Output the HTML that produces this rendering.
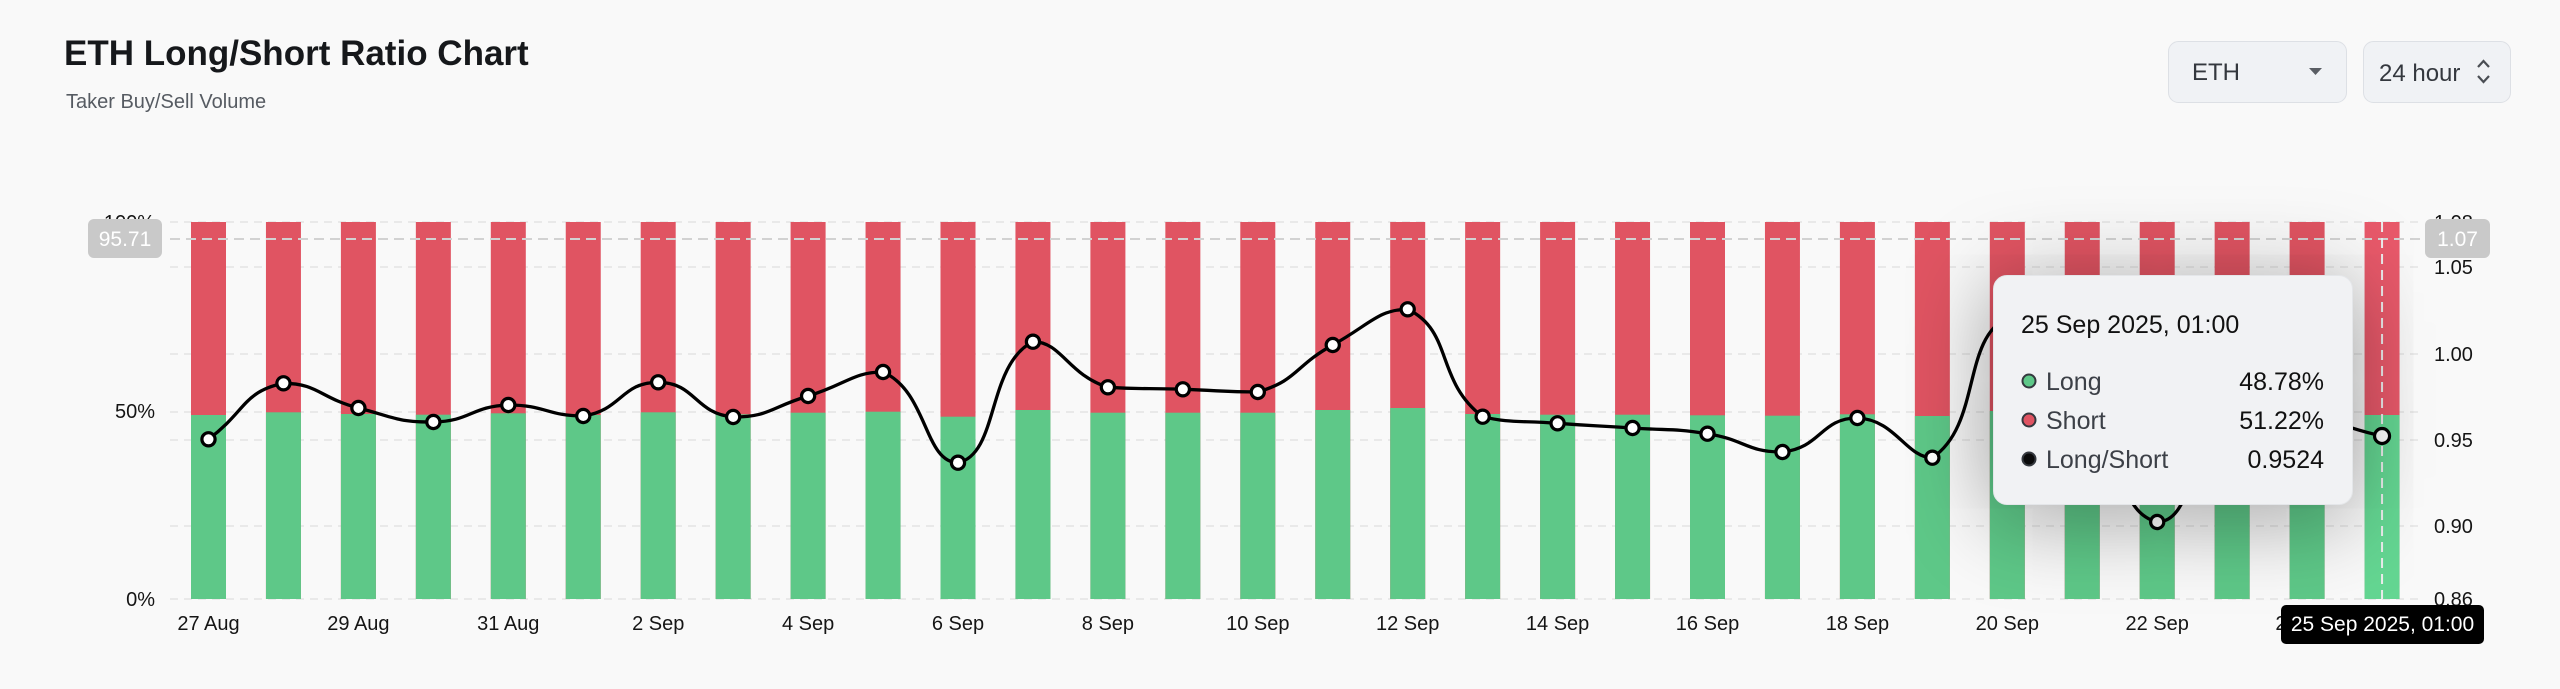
<!DOCTYPE html>
<html>
<head>
<meta charset="utf-8">
<style>
html,body{margin:0;padding:0;background:#f9f9f9;}
body{width:2560px;height:689px;position:relative;overflow:hidden;font-family:"Liberation Sans",sans-serif;}
svg{position:absolute;left:0;top:0;}
.tip{position:absolute;left:1993px;top:275px;width:360px;height:230px;border-radius:14px;background:#f1f2f4;box-shadow:0 10px 90px rgba(0,0,0,0.4);border:1px solid #e4e6e9;box-sizing:border-box;}
.tip svg{position:absolute;left:0;top:0;}
.badge{position:absolute;left:2281px;top:605px;width:203px;height:39px;background:#000;border-radius:5px;color:#fff;font-size:21px;line-height:39px;text-align:center;}
</style>
</head>
<body>
<svg width="2560" height="689" viewBox="0 0 2560 689" font-family="Liberation Sans, sans-serif">
  <!-- Header -->
  <text x="64" y="65" font-size="35" font-weight="700" fill="#16181b">ETH Long/Short Ratio Chart</text>
  <text x="66" y="108" font-size="20" fill="#565b62">Taker Buy/Sell Volume</text>

  <!-- Dropdowns -->
  <rect x="2168.5" y="41.5" width="178" height="61" rx="10" fill="#f0f2f5" stroke="#dde0e5"/>
  <text x="2192" y="80" font-size="24" fill="#34383e">ETH</text>
  <path d="M2309 68 L2322 68 L2315.5 75 Z" fill="#5a5e64"/>
  <rect x="2363.5" y="41.5" width="147" height="61" rx="10" fill="#f0f2f5" stroke="#dde0e5"/>
  <text x="2379" y="81" font-size="24" fill="#34383e">24 hour</text>
  <polyline points="2478,67 2483.5,61 2489,67" fill="none" stroke="#4a4e54" stroke-width="2.2"/>
  <polyline points="2478,76 2483.5,82 2489,76" fill="none" stroke="#4a4e54" stroke-width="2.2"/>

  <!-- Gridlines -->
  <g stroke="#e4e4e4" stroke-width="1.5" stroke-dasharray="8 6">
    <line x1="170" y1="222" x2="2420" y2="222"/>
    <line x1="170" y1="267" x2="2420" y2="267"/>
    <line x1="170" y1="354" x2="2420" y2="354"/>
    <line x1="170" y1="412" x2="2420" y2="412"/>
    <line x1="170" y1="440" x2="2420" y2="440"/>
    <line x1="170" y1="526" x2="2420" y2="526"/>
    <line x1="170" y1="599" x2="2420" y2="599"/>
  </g>

  <!-- Bars: red (short) full, green (long) on top -->
  <g fill="#e05462">
    <rect x="191" y="222" width="35" height="377"/>
    <rect x="265.95" y="222" width="35" height="377"/>
    <rect x="340.9" y="222" width="35" height="377"/>
    <rect x="415.85" y="222" width="35" height="377"/>
    <rect x="490.8" y="222" width="35" height="377"/>
    <rect x="565.75" y="222" width="35" height="377"/>
    <rect x="640.7" y="222" width="35" height="377"/>
    <rect x="715.65" y="222" width="35" height="377"/>
    <rect x="790.6" y="222" width="35" height="377"/>
    <rect x="865.55" y="222" width="35" height="377"/>
    <rect x="940.5" y="222" width="35" height="377"/>
    <rect x="1015.45" y="222" width="35" height="377"/>
    <rect x="1090.4" y="222" width="35" height="377"/>
    <rect x="1165.35" y="222" width="35" height="377"/>
    <rect x="1240.3" y="222" width="35" height="377"/>
    <rect x="1315.25" y="222" width="35" height="377"/>
    <rect x="1390.2" y="222" width="35" height="377"/>
    <rect x="1465.15" y="222" width="35" height="377"/>
    <rect x="1540.1" y="222" width="35" height="377"/>
    <rect x="1615.05" y="222" width="35" height="377"/>
    <rect x="1690" y="222" width="35" height="377"/>
    <rect x="1764.95" y="222" width="35" height="377"/>
    <rect x="1839.9" y="222" width="35" height="377"/>
    <rect x="1914.85" y="222" width="35" height="377"/>
    <rect x="1989.8" y="222" width="35" height="377"/>
    <rect x="2064.75" y="222" width="35" height="377"/>
    <rect x="2139.7" y="222" width="35" height="377"/>
    <rect x="2214.65" y="222" width="35" height="377"/>
    <rect x="2289.6" y="222" width="35" height="377"/>
  </g>
  <rect x="2364.55" y="222" width="35" height="377" fill="#e8596a"/>
  <g fill="#5ec888">
    <rect x="191" y="415" width="35" height="184"/>
    <rect x="265.95" y="412.3" width="35" height="186.7"/>
    <rect x="340.9" y="414" width="35" height="185"/>
    <rect x="415.85" y="414.7" width="35" height="184.3"/>
    <rect x="490.8" y="413.3" width="35" height="185.7"/>
    <rect x="565.75" y="415" width="35" height="184"/>
    <rect x="640.7" y="412.3" width="35" height="186.7"/>
    <rect x="715.65" y="414.3" width="35" height="184.7"/>
    <rect x="790.6" y="412.7" width="35" height="186.3"/>
    <rect x="865.55" y="411.7" width="35" height="187.3"/>
    <rect x="940.5" y="416.7" width="35" height="182.3"/>
    <rect x="1015.45" y="410" width="35" height="189"/>
    <rect x="1090.4" y="412.7" width="35" height="186.3"/>
    <rect x="1165.35" y="412.7" width="35" height="186.3"/>
    <rect x="1240.3" y="412.7" width="35" height="186.3"/>
    <rect x="1315.25" y="410" width="35" height="189"/>
    <rect x="1390.2" y="408" width="35" height="191"/>
    <rect x="1465.15" y="414" width="35" height="185"/>
    <rect x="1540.1" y="414.7" width="35" height="184.3"/>
    <rect x="1615.05" y="414.7" width="35" height="184.3"/>
    <rect x="1690" y="415.3" width="35" height="183.7"/>
    <rect x="1764.95" y="415.7" width="35" height="183.3"/>
    <rect x="1839.9" y="414.3" width="35" height="184.7"/>
    <rect x="1914.85" y="416" width="35" height="183"/>
    <rect x="1989.8" y="411" width="35" height="188"/>
    <rect x="2064.75" y="413" width="35" height="186"/>
    <rect x="2139.7" y="416" width="35" height="183"/>
    <rect x="2214.65" y="414" width="35" height="185"/>
    <rect x="2289.6" y="414" width="35" height="185"/>
  </g>
  <rect x="2364.55" y="415" width="35" height="184" fill="#64d692"/>

  <!-- Crosshairs -->
  <line x1="170" y1="239" x2="2420" y2="239" stroke="#d2d2d2" stroke-width="2" stroke-dasharray="10 6"/>
  <line x1="2382.05" y1="222" x2="2382.05" y2="599" stroke="#ececec" stroke-width="2" stroke-dasharray="10 6"/>

  <!-- Ratio line -->
  <path id="ratioLine" fill="none" stroke="#000" stroke-width="3.3" stroke-linejoin="round"
    d="M208.5,439.3 L283.45,383.3 L358.4,408 L433.35,422 L508.3,405 L583.25,416 L658.2,382.3 L733.15,417 L808.1,396 L883.05,372 L958,462.7 L1032.95,341.7 L1107.9,387.3 L1182.85,389.3 L1257.8,392 L1332.75,345 L1407.7,309.3 L1482.65,416.7 L1557.6,423.3 L1632.55,428 L1707.5,433.7 L1782.45,452 L1857.4,418 L1932.35,457.7 L2007.3,318 L2082.25,390 L2157.2,522 L2232.15,428 L2307.1,420 L2382.05,436"/>
  <g fill="#fff" stroke="#000" stroke-width="3.2">
    <circle cx="208.5" cy="439.3" r="6.6"/>
    <circle cx="283.45" cy="383.3" r="6.6"/>
    <circle cx="358.4" cy="408" r="6.6"/>
    <circle cx="433.35" cy="422" r="6.6"/>
    <circle cx="508.3" cy="405" r="6.6"/>
    <circle cx="583.25" cy="416" r="6.6"/>
    <circle cx="658.2" cy="382.3" r="6.6"/>
    <circle cx="733.15" cy="417" r="6.6"/>
    <circle cx="808.1" cy="396" r="6.6"/>
    <circle cx="883.05" cy="372" r="6.6"/>
    <circle cx="958" cy="462.7" r="6.6"/>
    <circle cx="1032.95" cy="341.7" r="6.6"/>
    <circle cx="1107.9" cy="387.3" r="6.6"/>
    <circle cx="1182.85" cy="389.3" r="6.6"/>
    <circle cx="1257.8" cy="392" r="6.6"/>
    <circle cx="1332.75" cy="345" r="6.6"/>
    <circle cx="1407.7" cy="309.3" r="6.6"/>
    <circle cx="1482.65" cy="416.7" r="6.6"/>
    <circle cx="1557.6" cy="423.3" r="6.6"/>
    <circle cx="1632.55" cy="428" r="6.6"/>
    <circle cx="1707.5" cy="433.7" r="6.6"/>
    <circle cx="1782.45" cy="452" r="6.6"/>
    <circle cx="1857.4" cy="418" r="6.6"/>
    <circle cx="1932.35" cy="457.7" r="6.6"/>
    <circle cx="2007.3" cy="318" r="6.6"/>
    <circle cx="2082.25" cy="390" r="6.6"/>
    <circle cx="2157.2" cy="522" r="6.6"/>
    <circle cx="2232.15" cy="428" r="6.6"/>
    <circle cx="2307.1" cy="420" r="6.6"/>
    <circle cx="2382.05" cy="436" r="7.5"/>
  </g>

  <!-- Left axis labels -->
  <g font-size="20" fill="#151515" text-anchor="end">
    <text x="155" y="229">100%</text>
    <text x="155" y="418">50%</text>
    <text x="155" y="606">0%</text>
  </g>
  <!-- Right axis labels -->
  <g font-size="20" fill="#151515">
    <text x="2434" y="229">1.08</text>
    <text x="2434" y="274">1.05</text>
    <text x="2434" y="361">1.00</text>
    <text x="2434" y="447">0.95</text>
    <text x="2434" y="533">0.90</text>
    <text x="2434" y="606">0.86</text>
  </g>
  <!-- Crosshair value badges -->
  <rect x="88" y="219" width="74" height="39" rx="6" fill="#c9c9c9"/>
  <text x="125" y="246" font-size="21" fill="#fff" text-anchor="middle">95.71</text>
  <rect x="2425" y="219" width="65" height="39" rx="6" fill="#c9c9c9"/>
  <text x="2457.5" y="246" font-size="21" fill="#fff" text-anchor="middle">1.07</text>

  <!-- X axis labels -->
  <g font-size="20" fill="#151515" text-anchor="middle">
    <text x="208.5" y="630">27 Aug</text>
    <text x="358.4" y="630">29 Aug</text>
    <text x="508.3" y="630">31 Aug</text>
    <text x="658.2" y="630">2 Sep</text>
    <text x="808.1" y="630">4 Sep</text>
    <text x="958" y="630">6 Sep</text>
    <text x="1107.9" y="630">8 Sep</text>
    <text x="1257.8" y="630">10 Sep</text>
    <text x="1407.7" y="630">12 Sep</text>
    <text x="1557.6" y="630">14 Sep</text>
    <text x="1707.5" y="630">16 Sep</text>
    <text x="1857.4" y="630">18 Sep</text>
    <text x="2007.3" y="630">20 Sep</text>
    <text x="2157.2" y="630">22 Sep</text>
    <text x="2307.1" y="630">24 Sep</text>
  </g>
</svg>

<div class="tip">
  <svg width="360" height="230" viewBox="0 0 360 230" font-family="Liberation Sans, sans-serif">
    <text x="27" y="57" font-size="25" fill="#111">25 Sep 2025, 01:00</text>
    <circle cx="35" cy="105" r="6.5" fill="#5ec888" stroke="#34383e" stroke-width="2"/>
    <circle cx="35" cy="144" r="6.5" fill="#e05462" stroke="#34383e" stroke-width="2"/>
    <circle cx="35" cy="183" r="6.5" fill="#0a0a0a" stroke="#34383e" stroke-width="2"/>
    <g font-size="25" fill="#3c4047">
      <text x="52" y="114">Long</text>
      <text x="52" y="153">Short</text>
      <text x="52" y="192">Long/Short</text>
    </g>
    <g font-size="25" fill="#111" text-anchor="end">
      <text x="330" y="114">48.78%</text>
      <text x="330" y="153">51.22%</text>
      <text x="330" y="192">0.9524</text>
    </g>
  </svg>
</div>
<div class="badge">25 Sep 2025, 01:00</div>

<script>
(function(){
  var pts=[[208.5,439.3],[283.45,383.3],[358.4,408],[433.35,422],[508.3,405],[583.25,416],[658.2,382.3],[733.15,417],[808.1,396],[883.05,372],[958,462.7],[1032.95,341.7],[1107.9,387.3],[1182.85,389.3],[1257.8,392],[1332.75,345],[1407.7,309.3],[1482.65,416.7],[1557.6,423.3],[1632.55,428],[1707.5,433.7],[1782.45,452],[1857.4,418],[1932.35,457.7],[2007.3,318],[2082.25,390],[2157.2,522],[2232.15,428],[2307.1,420],[2382.05,436]];
  var s=0.5,n=pts.length,ci=[],co=[];
  function cl(v,a,b){var lo=Math.min(a,b),hi=Math.max(a,b);return Math.max(lo,Math.min(hi,v));}
  for(var i=0;i<n;i++){
    var p=pts[Math.max(i-1,0)],c=pts[i],q=pts[Math.min(i+1,n-1)];
    var vx=q[0]-p[0],vy=q[1]-p[1];
    var l0=Math.hypot(c[0]-p[0],c[1]-p[1]),l1=Math.hypot(q[0]-c[0],q[1]-c[1]);
    var r=(l0+l1)>0?l1/(l0+l1):0.5;
    ci[i]=[cl(c[0]-vx*s*(1-r),p[0],c[0]),cl(c[1]-vy*s*(1-r),p[1],c[1])];
    co[i]=[cl(c[0]+vx*s*r,c[0],q[0]),cl(c[1]+vy*s*r,c[1],q[1])];
  }
  var d='M'+pts[0][0]+','+pts[0][1];
  for(var j=1;j<n;j++){
    d+=' C'+co[j-1][0].toFixed(2)+','+co[j-1][1].toFixed(2)+' '+ci[j][0].toFixed(2)+','+ci[j][1].toFixed(2)+' '+pts[j][0]+','+pts[j][1];
  }
  document.getElementById('ratioLine').setAttribute('d',d);
})();
</script>
</body>
</html>
